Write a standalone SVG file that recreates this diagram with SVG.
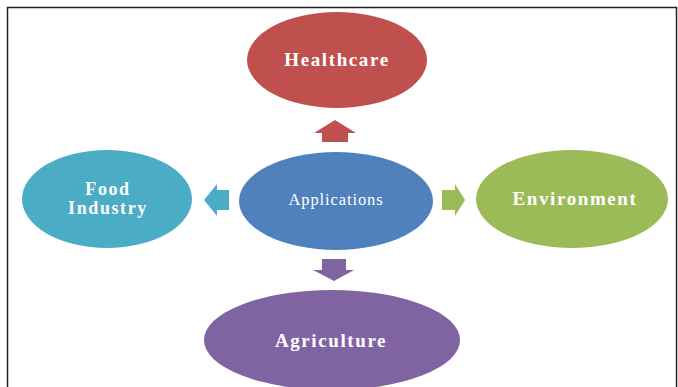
<svg xmlns="http://www.w3.org/2000/svg" width="678" height="387" viewBox="0 0 678 387">
<style>
.b{font-family:"Liberation Serif","Times New Roman",serif;font-weight:bold;font-size:19px;letter-spacing:1.6px;fill:#fff;text-anchor:middle}
.f{font-size:18px}
.r{font-family:"Liberation Serif","Times New Roman",serif;font-size:16.5px;letter-spacing:0.9px;fill:#fff;text-anchor:middle}
</style>
<rect x="0" y="0" width="678" height="387" fill="#fff"/>
<path d="M7.5 387V7.5H676.5V387" fill="none" stroke="#222" stroke-width="1.5"/>
<g id="connectors">
<polygon points="322,142 348,142 348,133 356,133 335,120 314,133 322,133" fill="#C0504D"/>
<polygon points="229,190 229,210 217,210 217,216 204,200 217,184 217,190" fill="#4BACC6"/>
<polygon points="442,190 442,210 455,210 455,216 465,200 455,184 455,190" fill="#9BBB59"/>
<polygon points="322,259 346,259 346,270 354,270 334,281 313,270 322,270" fill="#8064A2"/>
</g>
<g id="healthcare"><ellipse cx="337" cy="60" rx="90" ry="48" fill="#C0504D"/><text class="b" x="337" y="66">Healthcare</text></g>
<g id="applications"><ellipse cx="336" cy="201" rx="97" ry="49" fill="#4F81BD"/><text class="r" x="336" y="205">Applications</text></g>
<g id="food"><ellipse cx="107" cy="199" rx="85" ry="49" fill="#4BACC6"/><text class="b f" x="108" y="195">Food</text><text class="b f" x="108" y="214">Industry</text></g>
<g id="environment"><ellipse cx="572" cy="199" rx="96" ry="49" fill="#9BBB59"/><text class="b" x="575" y="205">Environment</text></g>
<g id="agriculture"><ellipse cx="332" cy="340" rx="128" ry="50" fill="#8064A2"/><text class="b" x="331" y="347">Agriculture</text></g>
</svg>
